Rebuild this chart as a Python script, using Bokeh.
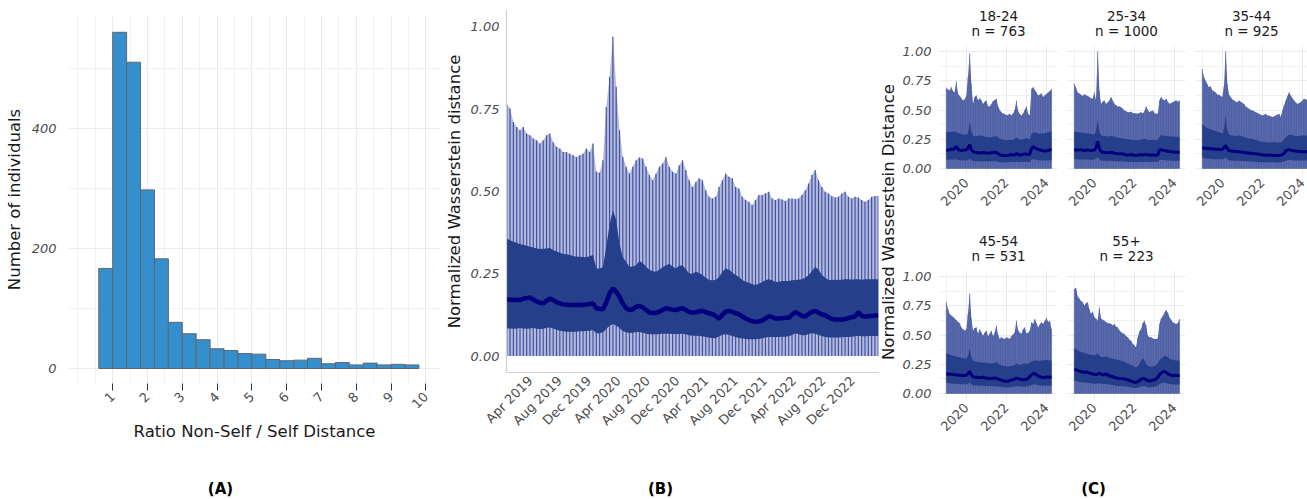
import numpy as np
import pandas as pd
from math import pi
from bokeh.plotting import figure
from bokeh.layouts import row, column
from bokeh.models import (FixedTicker, Range1d, Div, DatetimeTickFormatter,
                          PrintfTickFormatter, Title)
from bokeh.embed import file_html
from bokeh.resources import INLINE

FONT = "DejaVu Sans"
TXT = "#4d4d4d"
TTL = "#1a1a1a"

# ---------------- Panel A: histogram ----------------
hist_bin_left = [round(0.6 + 0.4 * i, 1) for i in range(23)]
hist_bin_width = 0.4
hist_counts = [167, 561, 511, 298, 183, 77, 58, 48, 33, 30, 25, 24, 15, 13,
               14, 17, 8, 10, 6, 9, 6, 7, 6]
hist_xticks = [1, 2, 3, 4, 5, 6, 7, 8, 9, 10]
hist_yticks = [0, 200, 400]

# ---------------- Panel B: overall time series ----------------
b_start, b_end, b_n = "2018-12-24", "2023-03-17", 113
b_max = [0.765, 0.752, 0.711, 0.696, 0.686, 0.696, 0.676, 0.671, 0.661, 0.656,
         0.646, 0.656, 0.671, 0.676, 0.650, 0.636, 0.631, 0.620, 0.620, 0.615,
         0.610, 0.605, 0.610, 0.615, 0.631, 0.620, 0.646, 0.560, 0.557, 0.595,
         0.757, 0.848, 0.970, 0.818, 0.686, 0.605, 0.575, 0.555, 0.575, 0.595,
         0.603, 0.600, 0.575, 0.550, 0.534, 0.555, 0.575, 0.585, 0.605, 0.575,
         0.560, 0.555, 0.580, 0.595, 0.565, 0.534, 0.514, 0.529, 0.540, 0.534,
         0.504, 0.484, 0.479, 0.484, 0.514, 0.534, 0.555, 0.545, 0.540, 0.514,
         0.509, 0.484, 0.474, 0.469, 0.459, 0.474, 0.489, 0.489, 0.494, 0.499,
         0.479, 0.474, 0.479, 0.476, 0.471, 0.479, 0.479, 0.477, 0.479, 0.489,
         0.504, 0.524, 0.550, 0.565, 0.534, 0.514, 0.499, 0.494, 0.486, 0.482,
         0.484, 0.494, 0.499, 0.484, 0.479, 0.484, 0.482, 0.474, 0.469, 0.474,
         0.484, 0.486, 0.486]
b_q75 = [0.357, 0.352, 0.347, 0.344, 0.340, 0.338, 0.335, 0.332, 0.330, 0.327,
         0.325, 0.326, 0.327, 0.328, 0.322, 0.318, 0.314, 0.310, 0.309, 0.307,
         0.304, 0.302, 0.302, 0.301, 0.300, 0.303, 0.307, 0.266, 0.266, 0.270,
         0.332, 0.400, 0.443, 0.413, 0.340, 0.300, 0.286, 0.271, 0.272, 0.276,
         0.289, 0.283, 0.271, 0.262, 0.258, 0.256, 0.262, 0.270, 0.276, 0.280,
         0.272, 0.266, 0.274, 0.276, 0.264, 0.251, 0.250, 0.256, 0.252, 0.246,
         0.238, 0.231, 0.230, 0.231, 0.240, 0.256, 0.266, 0.262, 0.254, 0.246,
         0.240, 0.231, 0.226, 0.223, 0.218, 0.216, 0.220, 0.225, 0.230, 0.233,
         0.230, 0.225, 0.226, 0.228, 0.228, 0.228, 0.230, 0.231, 0.232, 0.233,
         0.238, 0.246, 0.258, 0.271, 0.262, 0.246, 0.238, 0.231, 0.231, 0.232,
         0.231, 0.232, 0.233, 0.233, 0.232, 0.233, 0.233, 0.232, 0.233, 0.233,
         0.233, 0.233, 0.233]
b_med = [0.172, 0.171, 0.170, 0.171, 0.170, 0.174, 0.176, 0.178, 0.172, 0.166,
         0.162, 0.160, 0.168, 0.175, 0.170, 0.164, 0.160, 0.157, 0.156, 0.155,
         0.155, 0.155, 0.156, 0.155, 0.157, 0.158, 0.160, 0.145, 0.143, 0.142,
         0.163, 0.190, 0.206, 0.195, 0.180, 0.160, 0.145, 0.140, 0.142, 0.150,
         0.152, 0.148, 0.140, 0.132, 0.131, 0.131, 0.135, 0.140, 0.145, 0.143,
         0.141, 0.140, 0.143, 0.145, 0.140, 0.134, 0.132, 0.133, 0.136, 0.137,
         0.133, 0.130, 0.128, 0.121, 0.114, 0.125, 0.135, 0.137, 0.134, 0.130,
         0.128, 0.120, 0.114, 0.110, 0.106, 0.104, 0.105, 0.108, 0.114, 0.121,
         0.118, 0.114, 0.114, 0.115, 0.116, 0.116, 0.125, 0.134, 0.128, 0.122,
         0.120, 0.128, 0.134, 0.137, 0.132, 0.126, 0.124, 0.118, 0.113, 0.111,
         0.111, 0.111, 0.112, 0.115, 0.118, 0.120, 0.134, 0.122, 0.120, 0.121,
         0.122, 0.123, 0.123]
b_q25 = [0.084, 0.084, 0.083, 0.084, 0.085, 0.084, 0.083, 0.084, 0.085, 0.083,
         0.082, 0.083, 0.086, 0.087, 0.084, 0.080, 0.077, 0.075, 0.074, 0.074,
         0.074, 0.074, 0.075, 0.075, 0.076, 0.077, 0.079, 0.069, 0.069, 0.072,
         0.082, 0.092, 0.097, 0.092, 0.085, 0.076, 0.072, 0.070, 0.071, 0.073,
         0.073, 0.071, 0.068, 0.066, 0.066, 0.066, 0.067, 0.068, 0.068, 0.068,
         0.067, 0.067, 0.067, 0.068, 0.066, 0.063, 0.062, 0.062, 0.061, 0.060,
         0.058, 0.056, 0.054, 0.055, 0.060, 0.065, 0.066, 0.064, 0.061, 0.058,
         0.055, 0.053, 0.052, 0.051, 0.051, 0.051, 0.052, 0.054, 0.056, 0.058,
         0.058, 0.058, 0.058, 0.059, 0.059, 0.060, 0.064, 0.069, 0.066, 0.063,
         0.063, 0.067, 0.069, 0.068, 0.064, 0.061, 0.058, 0.057, 0.056, 0.056,
         0.056, 0.057, 0.058, 0.058, 0.059, 0.060, 0.062, 0.060, 0.060, 0.061,
         0.061, 0.061, 0.061]
b_tick_dates = ["2019-04-01", "2019-08-01", "2019-12-01", "2020-04-01",
                "2020-08-01", "2020-12-01", "2021-04-01", "2021-08-01",
                "2021-12-01", "2022-04-01", "2022-08-01", "2022-12-01"]

# ---------------- Panel C: by age group (monthly, Jan 2019 - Apr 2024) ----------------
c_groups = ["18-24", "25-34", "35-44", "45-54", "55+"]
c_counts = [763, 1000, 925, 531, 223]
c_first_year, c_n_months = 2019, 64
c_xticks = [2020, 2022, 2024]

c1_max = [0.688, 0.675, 0.665, 0.695, 0.660, 0.650, 0.745, 0.637, 0.620, 0.600, 0.580, 0.590,
          0.620, 0.780, 0.983, 0.720, 0.552, 0.610, 0.623, 0.580, 0.600, 0.580, 0.552, 0.570,
          0.580, 0.530, 0.530, 0.552, 0.575, 0.585, 0.595, 0.530, 0.500, 0.480, 0.470, 0.465,
          0.453, 0.460, 0.467, 0.453, 0.470, 0.500, 0.580, 0.490, 0.465, 0.453, 0.470, 0.500,
          0.530, 0.467, 0.453, 0.680, 0.694, 0.670, 0.650, 0.623, 0.630, 0.643, 0.610, 0.625,
          0.637, 0.650, 0.660, 0.680]
c1_q75 = [0.317, 0.315, 0.313, 0.312, 0.315, 0.318, 0.310, 0.305, 0.300, 0.296, 0.292, 0.290,
          0.288, 0.300, 0.400, 0.320, 0.280, 0.275, 0.278, 0.280, 0.282, 0.280, 0.276, 0.272,
          0.270, 0.268, 0.266, 0.268, 0.272, 0.275, 0.278, 0.265, 0.255, 0.250, 0.246, 0.244,
          0.242, 0.244, 0.246, 0.245, 0.248, 0.252, 0.268, 0.255, 0.248, 0.246, 0.250, 0.258,
          0.262, 0.252, 0.250, 0.295, 0.305, 0.310, 0.305, 0.300, 0.298, 0.300, 0.302, 0.300,
          0.305, 0.310, 0.315, 0.318]
c1_med = [0.156, 0.158, 0.160, 0.168, 0.162, 0.172, 0.190, 0.165, 0.158, 0.155, 0.156, 0.158,
          0.160, 0.175, 0.205, 0.165, 0.145, 0.140, 0.138, 0.135, 0.133, 0.135, 0.137, 0.135,
          0.134, 0.133, 0.134, 0.136, 0.138, 0.140, 0.138, 0.128, 0.120, 0.114, 0.112, 0.110,
          0.111, 0.113, 0.116, 0.120, 0.118, 0.116, 0.128, 0.120, 0.117, 0.118, 0.122, 0.125,
          0.124, 0.120, 0.122, 0.170, 0.185, 0.178, 0.170, 0.165, 0.160, 0.155, 0.152, 0.150,
          0.152, 0.155, 0.160, 0.165]
c1_q25 = [0.076, 0.076, 0.075, 0.077, 0.076, 0.078, 0.080, 0.074, 0.072, 0.071, 0.071, 0.070,
          0.070, 0.074, 0.085, 0.072, 0.066, 0.064, 0.063, 0.063, 0.062, 0.062, 0.063, 0.062,
          0.062, 0.061, 0.061, 0.062, 0.063, 0.063, 0.062, 0.058, 0.055, 0.053, 0.053, 0.053,
          0.054, 0.055, 0.056, 0.056, 0.056, 0.055, 0.060, 0.057, 0.056, 0.056, 0.057, 0.058,
          0.058, 0.057, 0.057, 0.075, 0.080, 0.078, 0.075, 0.072, 0.070, 0.069, 0.069, 0.069,
          0.070, 0.071, 0.072, 0.072]

c2_max = [0.725, 0.690, 0.650, 0.640, 0.630, 0.620, 0.635, 0.625, 0.620, 0.610, 0.600, 0.595,
          0.650, 0.580, 1.000, 0.666, 0.552, 0.570, 0.580, 0.552, 0.565, 0.580, 0.610, 0.580,
          0.552, 0.540, 0.530, 0.530, 0.524, 0.510, 0.496, 0.490, 0.480, 0.480, 0.485, 0.475,
          0.473, 0.470, 0.467, 0.475, 0.480, 0.470, 0.490, 0.530, 0.500, 0.480, 0.490, 0.496,
          0.475, 0.467, 0.467, 0.580, 0.610, 0.590, 0.580, 0.595, 0.570, 0.552, 0.560, 0.566,
          0.575, 0.580, 0.570, 0.580]
c2_q75 = [0.317, 0.315, 0.312, 0.310, 0.308, 0.306, 0.304, 0.302, 0.300, 0.298, 0.296, 0.294,
          0.292, 0.320, 0.410, 0.320, 0.285, 0.280, 0.278, 0.276, 0.275, 0.278, 0.280, 0.276,
          0.272, 0.268, 0.265, 0.262, 0.260, 0.258, 0.255, 0.252, 0.250, 0.248, 0.246, 0.245,
          0.244, 0.243, 0.242, 0.244, 0.246, 0.250, 0.255, 0.250, 0.246, 0.245, 0.246, 0.247,
          0.246, 0.245, 0.248, 0.270, 0.285, 0.282, 0.280, 0.278, 0.276, 0.275, 0.274, 0.273,
          0.272, 0.272, 0.271, 0.270]
c2_med = [0.161, 0.160, 0.158, 0.160, 0.162, 0.158, 0.155, 0.158, 0.160, 0.157, 0.155, 0.156,
          0.158, 0.180, 0.232, 0.170, 0.145, 0.140, 0.138, 0.136, 0.135, 0.137, 0.140, 0.136,
          0.132, 0.130, 0.128, 0.126, 0.128, 0.125, 0.122, 0.118, 0.115, 0.118, 0.120, 0.116,
          0.114, 0.113, 0.115, 0.118, 0.120, 0.116, 0.118, 0.122, 0.118, 0.116, 0.115, 0.116,
          0.117, 0.115, 0.118, 0.155, 0.162, 0.158, 0.155, 0.150, 0.148, 0.145, 0.143, 0.142,
          0.141, 0.140, 0.140, 0.140]
c2_q25 = [0.080, 0.079, 0.078, 0.078, 0.079, 0.077, 0.076, 0.077, 0.077, 0.076, 0.075, 0.075,
          0.076, 0.085, 0.100, 0.080, 0.070, 0.068, 0.067, 0.066, 0.066, 0.067, 0.068, 0.066,
          0.064, 0.063, 0.062, 0.061, 0.062, 0.061, 0.060, 0.058, 0.057, 0.058, 0.058, 0.057,
          0.056, 0.056, 0.057, 0.058, 0.058, 0.057, 0.058, 0.059, 0.058, 0.057, 0.057, 0.057,
          0.058, 0.057, 0.058, 0.072, 0.076, 0.074, 0.073, 0.071, 0.070, 0.069, 0.069, 0.068,
          0.068, 0.068, 0.068, 0.068]

c3_max = [0.850, 0.780, 0.750, 0.720, 0.694, 0.700, 0.666, 0.660, 0.650, 0.630, 0.630, 0.620,
          0.610, 0.700, 1.000, 0.722, 0.630, 0.610, 0.590, 0.580, 0.570, 0.566, 0.580, 0.570,
          0.560, 0.552, 0.530, 0.520, 0.510, 0.500, 0.496, 0.490, 0.480, 0.475, 0.467, 0.460,
          0.453, 0.460, 0.467, 0.450, 0.453, 0.445, 0.440, 0.445, 0.453, 0.460, 0.467, 0.440,
          0.496, 0.540, 0.580, 0.620, 0.650, 0.623, 0.600, 0.580, 0.565, 0.552, 0.560, 0.566,
          0.580, 0.595, 0.590, 0.580]
c3_q75 = [0.380, 0.365, 0.355, 0.345, 0.340, 0.335, 0.330, 0.325, 0.320, 0.315, 0.310, 0.305,
          0.300, 0.340, 0.450, 0.330, 0.290, 0.285, 0.282, 0.280, 0.278, 0.280, 0.282, 0.278,
          0.274, 0.270, 0.266, 0.262, 0.258, 0.255, 0.252, 0.248, 0.244, 0.240, 0.236, 0.232,
          0.230, 0.228, 0.226, 0.224, 0.222, 0.222, 0.224, 0.226, 0.224, 0.222, 0.222, 0.226,
          0.235, 0.250, 0.265, 0.280, 0.290, 0.288, 0.284, 0.280, 0.278, 0.276, 0.278, 0.280,
          0.282, 0.284, 0.283, 0.282]
c3_med = [0.176, 0.175, 0.172, 0.173, 0.170, 0.171, 0.168, 0.167, 0.166, 0.165, 0.165, 0.164,
          0.165, 0.180, 0.198, 0.170, 0.155, 0.150, 0.150, 0.148, 0.146, 0.145, 0.145, 0.143,
          0.140, 0.138, 0.136, 0.134, 0.132, 0.131, 0.130, 0.128, 0.126, 0.124, 0.122, 0.120,
          0.118, 0.116, 0.115, 0.114, 0.115, 0.116, 0.114, 0.113, 0.112, 0.111, 0.112, 0.115,
          0.120, 0.130, 0.150, 0.160, 0.162, 0.158, 0.155, 0.152, 0.150, 0.148, 0.147, 0.146,
          0.145, 0.145, 0.145, 0.145]
c3_q25 = [0.090, 0.088, 0.086, 0.085, 0.084, 0.083, 0.082, 0.081, 0.080, 0.080, 0.079, 0.078,
          0.078, 0.085, 0.095, 0.080, 0.072, 0.070, 0.069, 0.068, 0.068, 0.067, 0.067, 0.066,
          0.065, 0.064, 0.063, 0.062, 0.061, 0.060, 0.060, 0.059, 0.058, 0.057, 0.056, 0.055,
          0.055, 0.054, 0.054, 0.054, 0.054, 0.055, 0.054, 0.054, 0.053, 0.053, 0.054, 0.055,
          0.057, 0.062, 0.068, 0.072, 0.074, 0.073, 0.072, 0.071, 0.070, 0.070, 0.069, 0.069,
          0.069, 0.069, 0.069, 0.069]

c4_max = [0.780, 0.720, 0.680, 0.665, 0.655, 0.640, 0.625, 0.610, 0.600, 0.565, 0.550, 0.537,
          0.550, 0.680, 0.855, 0.640, 0.537, 0.560, 0.565, 0.510, 0.550, 0.520, 0.494, 0.520,
          0.537, 0.490, 0.510, 0.537, 0.490, 0.520, 0.580, 0.500, 0.466, 0.480, 0.470, 0.466,
          0.480, 0.475, 0.466, 0.490, 0.505, 0.523, 0.622, 0.540, 0.520, 0.510, 0.550, 0.565,
          0.510, 0.520, 0.537, 0.608, 0.594, 0.636, 0.600, 0.565, 0.590, 0.608, 0.594, 0.620,
          0.645, 0.610, 0.620, 0.550]
c4_q75 = [0.345, 0.338, 0.332, 0.328, 0.324, 0.320, 0.316, 0.312, 0.308, 0.305, 0.302, 0.300,
          0.298, 0.320, 0.380, 0.310, 0.280, 0.275, 0.272, 0.270, 0.268, 0.266, 0.265, 0.263,
          0.262, 0.260, 0.258, 0.258, 0.260, 0.262, 0.270, 0.258, 0.248, 0.242, 0.238, 0.235,
          0.232, 0.232, 0.234, 0.236, 0.240, 0.245, 0.260, 0.250, 0.245, 0.248, 0.255, 0.258,
          0.255, 0.258, 0.262, 0.275, 0.280, 0.285, 0.282, 0.278, 0.280, 0.284, 0.282, 0.285,
          0.290, 0.285, 0.283, 0.280]
c4_med = [0.170, 0.168, 0.166, 0.165, 0.164, 0.162, 0.160, 0.158, 0.157, 0.156, 0.155, 0.155,
          0.156, 0.172, 0.190, 0.160, 0.145, 0.140, 0.140, 0.138, 0.136, 0.137, 0.140, 0.135,
          0.132, 0.132, 0.130, 0.130, 0.132, 0.134, 0.130, 0.125, 0.120, 0.115, 0.110, 0.106,
          0.105, 0.108, 0.112, 0.116, 0.120, 0.125, 0.132, 0.128, 0.124, 0.120, 0.118, 0.120,
          0.122, 0.130, 0.145, 0.160, 0.170, 0.172, 0.160, 0.150, 0.145, 0.140, 0.138, 0.140,
          0.142, 0.141, 0.140, 0.140]
c4_q25 = [0.092, 0.090, 0.088, 0.086, 0.085, 0.084, 0.083, 0.082, 0.081, 0.080, 0.080, 0.079,
          0.079, 0.085, 0.095, 0.080, 0.072, 0.070, 0.069, 0.068, 0.067, 0.067, 0.068, 0.066,
          0.065, 0.064, 0.063, 0.063, 0.064, 0.064, 0.063, 0.060, 0.058, 0.056, 0.054, 0.052,
          0.052, 0.053, 0.055, 0.057, 0.058, 0.060, 0.064, 0.062, 0.060, 0.059, 0.058, 0.059,
          0.060, 0.063, 0.068, 0.074, 0.078, 0.079, 0.075, 0.071, 0.069, 0.068, 0.067, 0.068,
          0.068, 0.068, 0.067, 0.067]

c5_max = [0.892, 0.900, 0.830, 0.810, 0.790, 0.780, 0.750, 0.770, 0.780, 0.720, 0.680, 0.700,
          0.650, 0.640, 0.622, 0.736, 0.640, 0.630, 0.622, 0.610, 0.600, 0.600, 0.594, 0.580,
          0.594, 0.570, 0.565, 0.540, 0.523, 0.515, 0.508, 0.490, 0.480, 0.460, 0.450, 0.425,
          0.410, 0.395, 0.480, 0.530, 0.550, 0.600, 0.622, 0.580, 0.494, 0.480, 0.480, 0.470,
          0.466, 0.466, 0.470, 0.594, 0.640, 0.660, 0.690, 0.713, 0.690, 0.650, 0.630, 0.608,
          0.600, 0.594, 0.600, 0.636]
c5_q75 = [0.385, 0.378, 0.370, 0.362, 0.356, 0.350, 0.346, 0.342, 0.338, 0.334, 0.332, 0.330,
          0.328, 0.330, 0.345, 0.325, 0.315, 0.310, 0.312, 0.318, 0.310, 0.305, 0.300, 0.298,
          0.296, 0.292, 0.288, 0.284, 0.280, 0.276, 0.272, 0.266, 0.258, 0.250, 0.244, 0.238,
          0.230, 0.222, 0.232, 0.255, 0.280, 0.300, 0.285, 0.255, 0.238, 0.232, 0.230, 0.232,
          0.236, 0.245, 0.260, 0.285, 0.300, 0.310, 0.320, 0.318, 0.310, 0.300, 0.292, 0.288,
          0.285, 0.282, 0.280, 0.280]
c5_med = [0.205, 0.203, 0.198, 0.192, 0.188, 0.185, 0.182, 0.185, 0.180, 0.176, 0.172, 0.168,
          0.165, 0.162, 0.165, 0.175, 0.168, 0.160, 0.162, 0.168, 0.160, 0.152, 0.148, 0.144,
          0.138, 0.134, 0.132, 0.130, 0.128, 0.127, 0.125, 0.122, 0.118, 0.112, 0.106, 0.102,
          0.098, 0.097, 0.102, 0.112, 0.122, 0.130, 0.128, 0.118, 0.112, 0.108, 0.110, 0.115,
          0.118, 0.125, 0.140, 0.160, 0.175, 0.185, 0.190, 0.180, 0.170, 0.162, 0.158, 0.155,
          0.155, 0.156, 0.155, 0.155]
c5_q25 = [0.110, 0.108, 0.104, 0.100, 0.098, 0.096, 0.094, 0.093, 0.092, 0.090, 0.088, 0.086,
          0.085, 0.084, 0.086, 0.088, 0.085, 0.082, 0.082, 0.084, 0.080, 0.077, 0.075, 0.073,
          0.070, 0.068, 0.066, 0.065, 0.064, 0.063, 0.062, 0.060, 0.058, 0.055, 0.052, 0.050,
          0.048, 0.047, 0.050, 0.055, 0.060, 0.065, 0.064, 0.058, 0.055, 0.053, 0.054, 0.056,
          0.058, 0.062, 0.070, 0.080, 0.088, 0.092, 0.095, 0.090, 0.085, 0.082, 0.080, 0.079,
          0.078, 0.078, 0.078, 0.078]

# ---------------- colours ----------------
BAR_FILL = "#368fcd"
BAR_LINE = "#5f676e"
B_LIGHT = "#b4bbdf"
B_STRIPE = "#4253a0"
BAND = "#263f8a"
MED = "#00007d"
C_ENV = "#4b5ca2"
C_STRIPE = "#6271b0"
GRID = "#ebebeb"


def base_style(p):
    p.outline_line_color = None
    p.background_fill_color = "white"
    p.border_fill_color = "white"
    for ax in p.axis:
        ax.major_label_text_font = FONT
        ax.major_label_text_font_size = "13px"
        ax.major_label_text_color = TXT
        ax.axis_label_text_font = FONT
        ax.axis_label_text_font_size = "16.5px"
        ax.axis_label_text_font_style = "normal"
        ax.axis_label_text_color = TTL
        ax.minor_tick_line_color = None
        ax.minor_tick_out = 0
        ax.minor_tick_in = 0
        ax.major_tick_in = 0


# ---------------- Panel A figure ----------------
pA = figure(width=441, height=472, x_range=Range1d(-0.27, 10.42),
            y_range=Range1d(-25, 589), output_backend="svg", toolbar_location=None,
            min_border_left=68, min_border_right=1, min_border_top=15,
            min_border_bottom=89)
base_style(pA)
pA.quad(left=hist_bin_left, right=[l + hist_bin_width for l in hist_bin_left],
        bottom=0, top=hist_counts, fill_color=BAR_FILL, line_color=BAR_LINE,
        line_width=1)
pA.xaxis.ticker = FixedTicker(ticks=hist_xticks,
                              minor_ticks=[i * 0.5 for i in range(21)])
pA.yaxis.ticker = FixedTicker(ticks=hist_yticks, minor_ticks=[100, 300, 500])
pA.xgrid.grid_line_color = GRID
pA.xgrid.minor_grid_line_color = GRID
pA.xgrid.minor_grid_line_width = 0.7
pA.ygrid.grid_line_color = GRID
pA.ygrid.minor_grid_line_color = GRID
pA.ygrid.minor_grid_line_width = 0.7
pA.xaxis.axis_line_color = None
pA.xaxis.major_tick_line_color = "#333333"
pA.xaxis.major_tick_out = 7
pA.xaxis.major_label_orientation = pi / 4
pA.xaxis.major_label_standoff = 4
pA.xaxis.axis_label = "Ratio Non-Self / Self Distance"
pA.xaxis.axis_label_standoff = 6
pA.yaxis.axis_line_color = None
pA.yaxis.major_tick_line_color = None
pA.yaxis.major_tick_out = 0
pA.yaxis.major_label_text_font_style = "italic"
pA.yaxis.major_label_standoff = 12
pA.yaxis.axis_label = "Number of individuals"
pA.yaxis.axis_label_standoff = 5

# ---------------- Panel B figure ----------------
b_dates = pd.date_range(b_start, b_end, periods=b_n)
pB = figure(width=439, height=472, x_axis_type="datetime",
            x_range=Range1d(b_dates[0] - pd.Timedelta(days=1),
                            b_dates[-1] + pd.Timedelta(days=1)),
            y_range=Range1d(-0.05, 1.05), output_backend="svg",
            toolbar_location=None, min_border_left=62, min_border_right=2,
            min_border_top=10, min_border_bottom=100)
base_style(pB)
pB.varea(x=b_dates, y1=0, y2=b_max, fill_color=B_LIGHT)
pB.segment(x0=b_dates, y0=0, x1=b_dates, y1=b_max, line_color=B_STRIPE,
           line_width=1.2)
pB.varea(x=b_dates, y1=b_q25, y2=b_q75, fill_color=BAND)
pB.line(x=b_dates, y=b_med, line_color=MED, line_width=4.5)
pB.xgrid.grid_line_color = None
pB.ygrid.grid_line_color = None
pB.xaxis.ticker = FixedTicker(
    ticks=[pd.Timestamp(d).value // 10**6 for d in b_tick_dates])
pB.xaxis.formatter = DatetimeTickFormatter(days="%b %Y", months="%b %Y",
                                           years="%b %Y")
pB.xaxis.major_label_orientation = pi / 4
pB.xaxis.major_label_standoff = 6
pB.yaxis.ticker = FixedTicker(ticks=[0, 0.25, 0.5, 0.75, 1.0])
pB.yaxis.formatter = PrintfTickFormatter(format="%.2f")
pB.yaxis.major_label_text_font_style = "italic"
pB.yaxis.major_label_standoff = 7
pB.yaxis.axis_label = "Normalized Wasserstein distance"
pB.yaxis.axis_label_standoff = 4
for ax in pB.axis:
    ax.axis_line_color = "#d0d0d0"
    ax.axis_line_width = 1.2
    ax.major_tick_line_color = None
    ax.major_tick_out = 0

# ---------------- Panel C figures ----------------
c_x = [c_first_year + k / 12 for k in range(c_n_months)]
c_data = [(c1_max, c1_q75, c1_med, c1_q25), (c2_max, c2_q75, c2_med, c2_q25),
          (c3_max, c3_q75, c3_med, c3_q25), (c4_max, c4_q75, c4_med, c4_q25),
          (c5_max, c5_q75, c5_med, c5_q25)]
C_X0 = 2018.66
C_SPAN = 5.89
# (width, min_border_left, min_border_right, frame width, show y labels)
c_geom = [(164, 41, 5, 118, True), (128, 5, 5, 118, False),
          (117, 5, 0, 112, False),
          (164, 41, 5, 118, True), (128, 5, 5, 118, False)]
# (height, top, bottom) per row
c_rows = [(228, 45, 54), (244, 42, 73)]

c_figs = []
for i, (g, n) in enumerate(zip(c_groups, c_counts)):
    w, mbl, mbr, fw, showy = c_geom[i]
    h, mbt, mbb = c_rows[0] if i < 3 else c_rows[1]
    vmax, q75, med, q25 = c_data[i]
    p = figure(width=w, height=h,
               x_range=Range1d(C_X0, C_X0 + C_SPAN * fw / 118),
               y_range=Range1d(-0.05, 1.05), output_backend="svg",
               toolbar_location=None, min_border_left=mbl, min_border_right=mbr,
               min_border_top=mbt, min_border_bottom=mbb)
    # small spacer line closest to the panel, then the two strip lines
    p.add_layout(Title(text=" ", text_font_size="4px", standoff=0), "above")
    for txt in (f"n = {n}", g):
        p.add_layout(Title(text=txt, align="center", text_font=FONT,
                           text_font_size="13.5px", text_font_style="normal",
                           text_color=TTL, standoff=0), "above")
    base_style(p)
    p.varea(x=c_x, y1=0, y2=vmax, fill_color=C_ENV)
    p.segment(x0=c_x, y0=0, x1=c_x, y1=vmax, line_color=C_STRIPE, line_width=0.8)
    p.varea(x=c_x, y1=q25, y2=q75, fill_color=BAND)
    p.line(x=c_x, y=med, line_color=MED, line_width=3)
    p.xaxis.ticker = FixedTicker(ticks=c_xticks, minor_ticks=[2019, 2021, 2023])
    p.xaxis.formatter = PrintfTickFormatter(format="%d")
    p.xaxis.major_label_orientation = pi / 4
    p.xaxis.major_label_standoff = 6
    p.yaxis.ticker = FixedTicker(ticks=[0, 0.25, 0.5, 0.75, 1.0],
                                 minor_ticks=[0.125, 0.375, 0.625, 0.875])
    p.yaxis.formatter = PrintfTickFormatter(format="%.2f")
    p.yaxis.major_label_text_font_style = "italic"
    p.yaxis.major_label_standoff = 8
    for ax in p.axis:
        ax.axis_line_color = None
        ax.major_tick_line_color = None
        ax.major_tick_out = 0
    p.xgrid.grid_line_color = GRID
    p.xgrid.grid_line_width = 1.1
    p.xgrid.minor_grid_line_color = GRID
    p.xgrid.minor_grid_line_width = 0.7
    p.ygrid.grid_line_color = GRID
    p.ygrid.grid_line_width = 1.1
    p.ygrid.minor_grid_line_color = GRID
    p.ygrid.minor_grid_line_width = 0.7
    if not showy:
        p.yaxis.visible = False
    c_figs.append(p)

c_ytitle = Div(text=(
    '<div style="width:18px;height:444px;display:flex;align-items:center;'
    'justify-content:center;">'
    '<span style="writing-mode:vertical-rl;transform:rotate(180deg);'
    'white-space:nowrap;font-family:\'DejaVu Sans\';font-size:16.5px;'
    'color:#1a1a1a;">Normalized Wasserstein Distance</span></div>'),
    width=18, height=472, margin=(0, 0, 0, 0))


def panel_label(txt, w, pad_left=0):
    return Div(text=(
        f'<div style="width:{w - pad_left}px;padding-left:{pad_left}px;'
        'padding-top:8px;text-align:center;font-family:\'DejaVu Sans\';'
        'font-weight:bold;font-size:15px;line-height:19px;color:#000;">'
        f'{txt}</div>'),
        width=w, height=27, margin=(0, 0, 0, 0))


colA = column(pA, panel_label("(A)", 441), spacing=0)
colB = column(pB, panel_label("(B)", 439), spacing=0)
gridC = column(row(c_figs[0], c_figs[1], c_figs[2], spacing=0),
               row(c_figs[3], c_figs[4], spacing=0), spacing=0)
colC = column(row(c_ytitle, gridC, spacing=0), panel_label("(C)", 427, 7),
              spacing=0)
layout = row(colA, colB, colC, spacing=0)

open("out.html", "w").write(file_html(layout, INLINE))
